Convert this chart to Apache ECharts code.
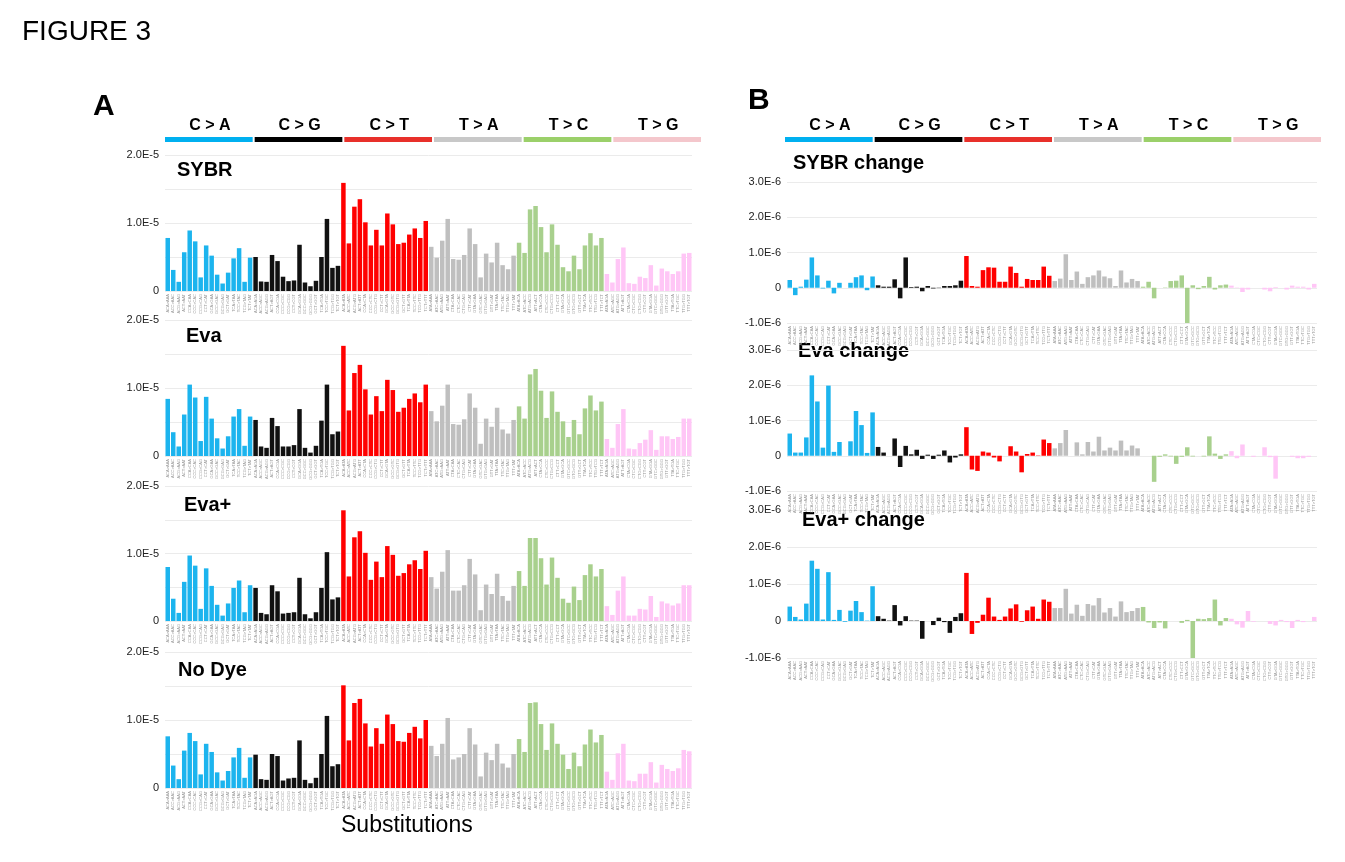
<!DOCTYPE html>
<html><head><meta charset="utf-8">
<script src="https://cdn.jsdelivr.net/npm/echarts@6/dist/echarts.min.js"></script>
<style>html,body{margin:0;background:#fff}#c{width:1345px;height:862px}</style>
</head><body><div id="c"></div>
<script>
// values in units of 1e-6
const subTypes = ['C > A','C > G','C > T','T > A','T > C','T > G'];
const sybr = [7.8,3.1,1.35,5.7,8.9,7.3,2.0,6.7,5.2,2.4,1.1,2.7,4.8,6.3,1.35,4.9,
 5.0,1.4,1.35,5.3,4.4,2.1,1.45,1.55,6.8,1.25,0.7,1.5,5.0,10.6,3.4,3.7,
 15.9,7.0,12.4,13.5,10.1,6.7,9.0,6.7,11.4,9.8,6.9,7.1,8.3,9.2,7.8,10.3,
 6.5,4.9,7.4,10.6,4.7,4.6,5.3,9.2,6.9,2.0,5.5,4.2,7.1,3.8,3.2,5.2,
 7.1,5.6,12.0,12.5,9.4,5.7,9.8,6.8,3.5,2.9,5.2,3.2,6.7,8.5,6.7,7.8,
 2.5,1.25,4.7,6.4,1.15,1.05,2.1,1.9,3.8,0.8,3.3,2.9,2.5,2.9,5.5,5.6];
const eva = [8.4,3.5,1.4,6.1,10.5,8.6,2.2,8.7,5.5,2.6,1.1,2.9,5.8,6.9,1.5,5.8,
 5.3,1.4,1.2,5.6,4.4,1.4,1.4,1.6,6.9,1.2,0.5,1.5,5.2,10.5,3.2,3.6,
 16.2,6.7,12.2,13.4,9.8,6.1,8.8,6.6,11.2,9.7,6.5,7.1,8.4,9.2,7.9,10.5,
 6.6,5.1,7.4,10.5,4.7,4.6,5.4,9.2,7.1,1.8,5.5,4.3,7.1,3.9,3.3,5.3,
 7.3,5.5,12.0,12.8,9.6,5.6,9.5,6.5,5.1,2.8,5.3,3.2,7.0,8.9,6.7,8.0,
 2.5,1.2,4.7,6.9,1.1,1.0,1.9,2.4,3.8,0.9,2.9,2.9,2.5,2.8,5.5,5.5];
const evaPlus = [8.0,3.3,1.2,5.8,9.7,8.2,1.8,7.8,5.2,2.4,0.8,2.6,4.9,6.0,1.3,5.3,
 4.9,1.2,1.0,5.3,4.4,1.1,1.2,1.3,6.4,1.0,0.4,1.3,4.9,10.2,3.2,3.5,
 16.4,6.6,12.4,13.3,10.1,6.1,8.8,6.5,11.1,9.8,6.7,7.1,8.4,9.0,7.7,10.4,
 6.5,4.8,7.3,10.5,4.5,4.5,5.3,9.2,6.9,1.6,5.4,4.0,7.0,3.7,3.0,5.2,
 7.4,5.2,12.3,12.3,9.3,5.4,9.4,6.4,3.3,2.7,5.1,3.1,6.8,8.4,6.6,7.7,
 2.2,0.9,4.5,6.6,0.8,0.8,1.8,1.7,3.7,0.6,2.9,2.6,2.3,2.6,5.3,5.3];
const noDye = [7.6,3.3,1.3,5.5,8.1,6.9,2.0,6.5,5.3,2.3,1.1,2.5,4.5,5.9,1.5,4.5,
 4.9,1.3,1.2,5.0,4.7,1.1,1.4,1.5,7.0,1.2,0.7,1.5,5.0,10.6,3.2,3.5,
 15.1,7.0,12.5,13.1,9.5,6.1,8.8,6.5,10.8,9.4,6.9,6.8,8.1,9.0,7.3,10.0,
 6.2,4.7,6.5,10.3,4.2,4.5,5.0,8.8,6.4,1.7,5.2,4.1,6.5,3.6,3.0,5.0,
 7.2,5.3,12.5,12.6,9.4,5.6,9.5,6.5,4.9,2.8,5.2,3.2,6.4,8.6,6.7,7.8,
 2.4,1.2,5.1,6.5,1.1,1.0,2.1,2.1,3.8,0.8,3.4,2.8,2.5,2.9,5.6,5.4];
const sybrChange = [0.22,-0.21,0.03,0.23,0.86,0.35,-0.02,0.2,-0.16,0.14,0,0.14,0.3,0.35,-0.07,0.32,
 0.07,0.03,0.03,0.24,-0.3,0.86,0.02,0.03,-0.1,0.05,-0.02,-0.01,0.05,0.05,0.07,0.2,
 0.9,0.05,0.03,0.5,0.58,0.57,0.17,0.17,0.6,0.42,0.03,0.25,0.22,0.22,0.6,0.34,
 0.19,0.26,0.95,0.22,0.46,0.11,0.3,0.35,0.49,0.32,0.27,0.05,0.49,0.15,0.25,0.19,
 0.03,0.17,-0.3,0,0.01,0.19,0.2,0.35,-1.03,0.07,-0.04,0.05,0.31,-0.05,0.07,0.09,
 0.06,0.01,-0.12,-0.05,0,0,-0.05,-0.1,0.02,0,-0.05,0.06,0.03,0.03,-0.05,0.11];
const evaChange = [0.63,0.09,0.09,0.52,2.28,1.54,0.23,1.99,0.11,0.39,0,0.41,1.27,0.87,0.08,1.23,
 0.25,0.09,0,0.49,-0.32,0.28,0.04,0.17,-0.09,0.03,-0.09,0.03,0.15,-0.19,-0.05,0.04,
 0.81,-0.39,-0.43,0.12,0.09,-0.05,-0.16,0,0.27,0.12,-0.47,0.05,0.09,0.01,0.46,0.36,
 0.21,0.36,0.73,0,0.38,0.04,0.39,0.12,0.54,0.15,0.23,0.15,0.43,0.15,0.29,0.21,
 0,0,-0.74,-0.03,0.04,-0.02,-0.23,-0.03,0.24,-0.02,0,-0.02,0.55,0.06,-0.09,0.04,
 0.13,-0.07,0.32,0,-0.03,0,0.24,-0.04,-0.65,0,0,-0.03,-0.07,-0.07,-0.03,0];
const evaPlusChange = [0.39,0.11,0.04,0.47,1.63,1.41,0.04,1.32,0.03,0.3,-0.02,0.28,0.54,0.24,0.01,0.94,
 0.13,0.06,0.01,0.43,-0.12,0.13,0.01,0.01,-0.48,0,-0.11,0.09,-0.03,-0.32,0.11,0.21,
 1.3,-0.35,-0.05,0.17,0.63,0.12,0.03,0.12,0.34,0.45,-0.02,0.29,0.39,0.06,0.58,0.52,
 0.35,0.35,0.87,0.2,0.44,0.14,0.46,0.42,0.62,0.23,0.35,0.12,0.53,0.24,0.27,0.35,
 0.38,-0.04,-0.19,-0.04,-0.2,0,0,-0.05,0.03,-1.02,0.06,0.05,0.08,0.58,-0.12,0.08,
 0.06,-0.09,-0.18,0.27,-0.02,0,0,-0.08,-0.12,0.03,-0.03,-0.19,0.03,-0.03,0,0.11];
const bases = ['A','C','G','T'];
const categories = [];
subTypes.forEach(s=>{const r=s.replace(/ /g,'').split('>');bases.forEach(a=>bases.forEach(b=>categories.push(a+r[0]+b+'>'+a+r[1]+b)));});
const barColors = ['#1cb4ee','#111111','#ff0000','#bfbfbf','#a8d08d','#ffc6f6'];
const stripColors = ['#00b0f0','#000000','#e8302a','#c8c8c8','#9bd06a','#f4c7cc'];

const chart = echarts.init(document.getElementById('c'));
const panels = [
 {d:sybr,left:165,top:155,h:136,w:527,min:0,max:20,iv:5,A:true},
 {d:eva,left:165,top:320,h:136,w:527,min:0,max:20,iv:5,A:true},
 {d:evaPlus,left:165,top:486,h:135,w:527,min:0,max:20,iv:5,A:true},
 {d:noDye,left:165,top:652,h:136,w:527,min:0,max:20,iv:5,A:true},
 {d:sybrChange,left:787,top:182,h:141,w:530,min:-1,max:3,iv:1},
 {d:evaChange,left:787,top:350,h:141,w:530,min:-1,max:3,iv:1},
 {d:evaPlusChange,left:787,top:510,h:148,w:530,min:-1,max:3,iv:1}
];
const fmt = (v,A)=>{ if(Math.abs(v)<1e-9) return '0'; if(A && Math.abs(v%10)>1e-6) return ''; return (v*1e-6).toExponential(1).toUpperCase(); };
const grid=[],xAxis=[],yAxis=[],series=[];
panels.forEach((p,i)=>{
 grid.push({left:p.left,top:p.top,width:p.w,height:p.h});
 xAxis.push({type:'category',gridIndex:i,data:categories,axisLine:{show:false},axisTick:{show:false},
  axisLabel:{interval:0,rotate:90,fontSize:4,color:'#999',margin:3}});
 yAxis.push({type:'value',gridIndex:i,min:p.min,max:p.max,interval:p.iv,
  axisLabel:{formatter:v=>fmt(v,p.A),fontSize:11,color:'#222',fontFamily:'Liberation Sans',margin:6},
  splitLine:{lineStyle:{color:'#ebebeb'}},axisLine:{show:false},axisTick:{show:false}});
 series.push({type:'bar',xAxisIndex:i,yAxisIndex:i,data:p.d,barCategoryGap:'18%',
  itemStyle:{color:c=>barColors[Math.floor(c.dataIndex/16)]},silent:true});
});
const g=[];
g.push({type:'text',left:22,top:18,style:{text:'FIGURE 3',font:'28px "Liberation Sans"',fill:'#000'}});
g.push({type:'text',left:93,top:92,style:{text:'A',font:'bold 30px "Liberation Sans"',fill:'#000'}});
g.push({type:'text',left:748,top:86,style:{text:'B',font:'bold 30px "Liberation Sans"',fill:'#000'}});
[[165,538],[785,538]].forEach(([x0,w])=>{
 const sw=w/6;
 subTypes.forEach((s,k)=>{
  g.push({type:'rect',shape:{x:x0+k*sw,y:137,width:sw-2,height:5},style:{fill:stripColors[k]}});
  g.push({type:'text',x:x0+k*sw+sw/2,y:126,style:{text:s,font:'bold 16px "Liberation Sans"',fill:'#000',textAlign:'center',textVerticalAlign:'middle'}});
 });
});
[['SYBR',177,160],['Eva',186,326],['Eva+',184,495],['No Dye',178,660],
 ['SYBR change',793,153],['Eva change',798,341],['Eva+ change',802,510]].forEach(([t,x,y])=>
 g.push({type:'text',left:x,top:y,style:{text:t,font:'bold 20px "Liberation Sans"',fill:'#000'}}));
g.push({type:'text',left:341,top:814,style:{text:'Substitutions',font:'23px "Liberation Sans"',fill:'#000'}});
chart.setOption({animation:false,grid,xAxis,yAxis,series,graphic:g});
</script></body></html>
